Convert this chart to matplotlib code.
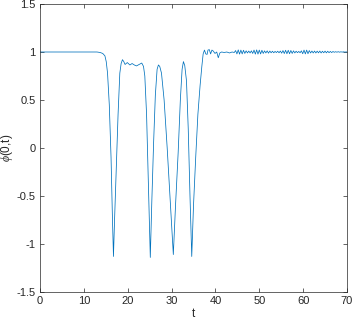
import matplotlib
matplotlib.use("Agg")
import matplotlib.pyplot as plt
from matplotlib.ticker import FuncFormatter

# transient part
t_main = [0, 10, 13.0, 13.7, 14.3, 14.8, 15.1, 15.4, 15.8, 16.2, 16.5, 16.75,
          17.0, 17.4, 17.8, 18.2, 18.5, 18.8, 19.1, 19.4, 19.9, 20.5, 21.0,
          21.5, 22.0, 22.6, 23.2, 23.6, 23.9, 24.3, 24.7, 25.15, 25.5, 25.9,
          26.3, 26.7, 27.0, 27.3, 27.7, 28.3, 29.0, 29.7, 30.4, 30.9, 31.5,
          32.0, 32.4, 32.7, 33.0, 33.4, 33.8, 34.2, 34.6, 35.0, 35.5, 36.0,
          36.5, 36.9, 37.2, 37.5, 37.8, 38.1, 38.3, 38.6, 38.9, 39.2, 39.5,
          39.9, 40.3, 40.65, 41.0, 41.4, 42.0, 42.6, 43.2, 43.8, 44.3]
phi_main = [1.0, 1.0, 1.0, 0.995, 0.985, 0.96, 0.90, 0.78, 0.45, -0.1, -0.7, -1.13,
            -0.75, -0.2, 0.35, 0.78, 0.88, 0.92, 0.90, 0.87, 0.89, 0.865, 0.88,
            0.865, 0.855, 0.87, 0.885, 0.85, 0.75, 0.35, -0.35, -1.14, -0.55, 0.05,
            0.55, 0.82, 0.865, 0.85, 0.78, 0.5, 0.0, -0.55, -1.11, -0.6, -0.05,
            0.5, 0.82, 0.90, 0.86, 0.70, 0.2, -0.5, -1.13, -0.6, -0.1, 0.35,
            0.65, 0.85, 0.98, 1.02, 0.98, 0.975, 1.02, 1.025, 0.98, 1.02, 1.01,
            0.985, 1.0, 0.94, 0.99, 1.0, 0.995, 1.0, 0.99, 1.0, 0.995]

# small ringing around 1 after t ~ 44
t_tail = [44.6, 44.9, 45.2, 45.5, 45.8, 46.1, 46.4, 46.7, 47.0, 47.3, 47.6, 47.9,
          48.2, 48.5, 48.8, 49.1, 49.4, 49.7, 50.0, 50.3, 50.6, 50.9, 51.2, 51.5,
          51.8, 52.1, 52.4, 52.7, 53.0, 53.3, 53.6, 53.9, 54.2, 54.5, 54.8, 55.1,
          55.4, 55.7, 56.0, 56.3, 56.6, 56.9, 57.2, 57.5, 57.8, 58.1, 58.4, 58.7,
          59.0, 59.3, 59.6, 59.9, 60.2, 60.5, 60.8, 61.1, 61.4, 61.7, 62.0, 62.3,
          62.6, 62.9, 63.2, 63.5, 63.8, 64.1, 64.4, 64.7, 65.0, 65.3, 65.6, 65.9,
          66.2, 66.5, 66.8, 67.1, 67.4, 67.7, 68.0, 68.3, 68.6, 68.9, 69.2, 69.5,
          69.8, 70.0]
phi_tail = [1.015, 0.98, 1.022, 0.978, 1.02, 0.98, 1.018, 0.985, 1.012, 0.99, 1.01, 0.99,
            1.012, 0.985, 1.02, 0.978, 1.022, 0.978, 1.02, 0.98, 1.018, 0.985, 1.012, 0.99,
            1.012, 0.988, 1.01, 0.992, 1.008, 0.992, 1.006, 0.994, 1.008, 0.992, 1.01, 0.988,
            1.015, 0.984, 1.018, 0.982, 1.018, 0.982, 1.016, 0.985, 1.012, 0.99, 1.008, 0.993,
            1.006, 0.992, 1.012, 0.982, 1.02, 0.98, 1.02, 0.982, 1.015, 0.99, 1.01, 0.99,
            1.01, 0.99, 1.009, 0.991, 1.01, 0.99, 1.008, 0.992, 1.009, 0.991, 1.008, 0.993,
            1.006, 0.994, 1.005, 0.997, 1.003, 0.998, 1.003, 0.998, 1.002, 0.999, 1.002, 0.999,
            1.001, 1.0]

t = t_main + t_tail
phi = phi_main + phi_tail

xticks = [0, 10, 20, 30, 40, 50, 60, 70]
yticks = [-1.5, -1, -0.5, 0, 0.5, 1, 1.5]

plt.rcParams['font.family'] = ['Liberation Sans', 'DejaVu Sans']
plt.rcParams['mathtext.fontset'] = 'custom'
plt.rcParams['mathtext.it'] = 'Liberation Serif:italic'

fig = plt.figure(figsize=(3.54, 3.22), dpi=100)
ax = fig.add_axes([40/354, 1-292/322, 307/354, 288/322])
ax.plot(t, phi, color='#0072BD', lw=0.55)

ax.set_xlim(0, 70)
ax.set_ylim(-1.5, 1.5)
ax.set_xticks(xticks)
ax.set_yticks(yticks)
ax.yaxis.set_major_formatter(FuncFormatter(lambda v, p: ('%g' % v)))
ax.tick_params(direction='in', length=3, width=0.5, top=True, right=True,
               labelsize=8, colors='#262626', pad=3)
for s in ax.spines.values():
    s.set_linewidth(0.5)
    s.set_color('#262626')

ax.set_xlabel('t', fontsize=8.5, color='#262626', labelpad=1)
ax.set_ylabel(r'$\phi$(0,t)', fontsize=8.5, color='#262626')
ax.yaxis.set_label_coords(-0.082, 0.5)

fig.savefig('out.png', dpi=100)
